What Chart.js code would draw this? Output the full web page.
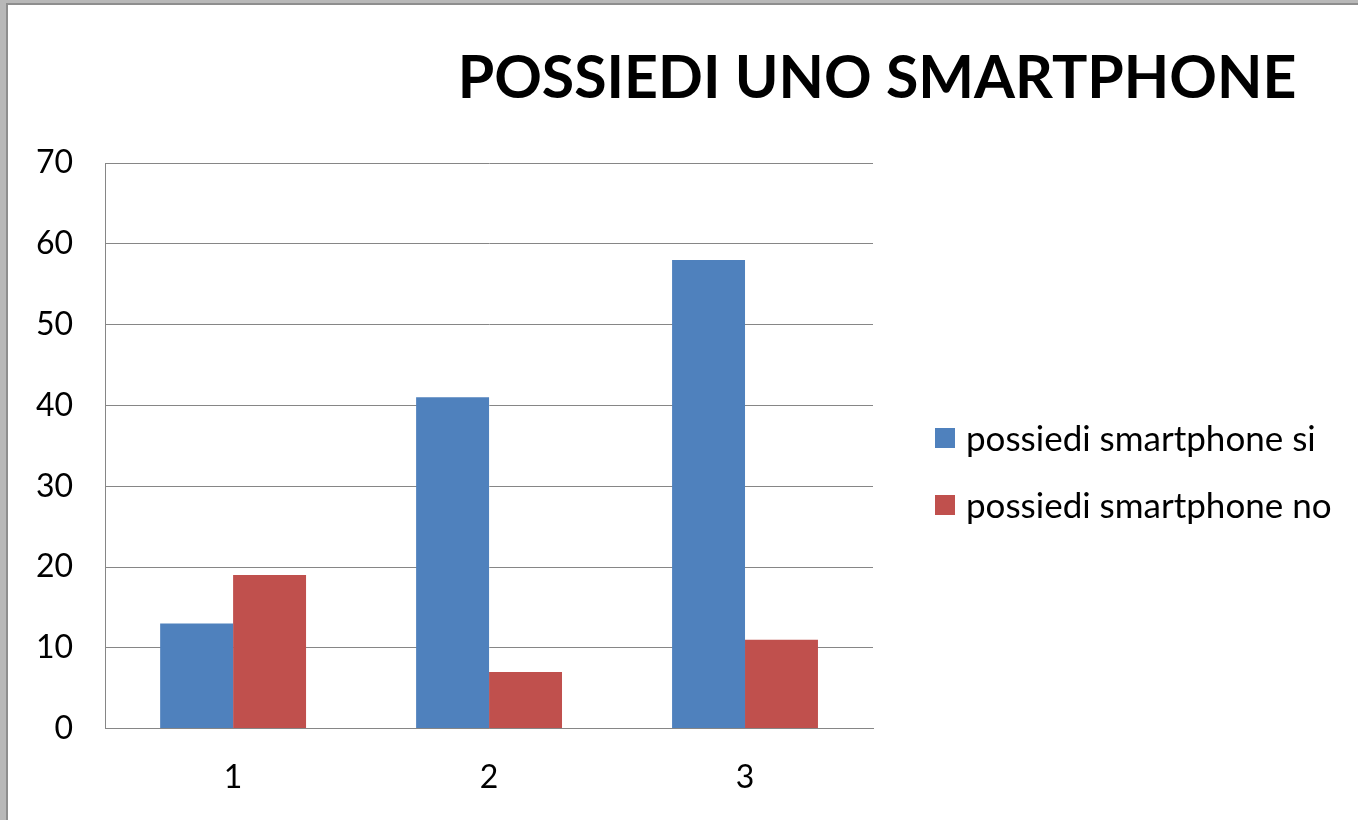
<!DOCTYPE html>
<html>
<head>
<meta charset="utf-8">
<script src="https://cdn.jsdelivr.net/npm/chart.js@4"></script>
<style>
  html, body { margin: 0; padding: 0; background: #fff; overflow: hidden; }
  #frame {
    position: absolute; left: 0; top: 0; width: 1358px; height: 820px; overflow: hidden;
    box-sizing: border-box; border-top: 3px solid #b8b8b8; border-left: 6px solid #b8b8b8;
  }
  #inner {
    position: absolute; left: 0; top: 0; right: 0; bottom: 0;
    border-top: 2px solid #8e8e8e; border-left: 2px solid #8e8e8e; background: #fff;
  }
  #grafico { position: absolute; left: -4px; top: 0; }
</style>
</head>
<body>
<div id="frame"><div id="inner"><canvas id="grafico" width="1354" height="822"></canvas></div></div>
<script>
const categorie = ["1", "2", "3"];
const smartphoneSi = [13, 41, 58];
const smartphoneNo = [19, 7, 11];
const serieNomi = ["possiedi smartphone si", "possiedi smartphone no"];
const titolo = "POSSIEDI UNO SMARTPHONE";

const coloreSi = "#4f81bd";
const coloreNo = "#c0504d";
const grigio = "#868686";
const font = "Lato, 'Open Sans', sans-serif";

// titolo e legenda disegnati a mano: nell'originale sono spostati a destra
const titoloPlugin = {
  id: "titoloDestra",
  afterDraw(chart) {
    const ctx = chart.ctx;
    ctx.save();
    ctx.font = "bold 59px " + font;
    ctx.fillStyle = "#000";
    ctx.textAlign = "center";
    ctx.textBaseline = "middle";
    ctx.fillText(titolo, 873, 74);
    ctx.restore();
  }
};

const legendaPlugin = {
  id: "legendaDestra",
  afterDraw(chart) {
    const ctx = chart.ctx;
    const x = chart.chartArea.right + 62;
    ctx.save();
    ctx.font = "35px " + font;
    ctx.textBaseline = "middle";
    chart.data.datasets.forEach((ds, i) => {
      const y = 433 + i * 67;
      ctx.fillStyle = ds.backgroundColor;
      ctx.fillRect(x, y - 10, 20, 20);
      ctx.fillStyle = "#000";
      ctx.fillText(ds.label, x + 31, y + 2);
    });
    ctx.restore();
  }
};

new Chart(document.getElementById("grafico"), {
  type: "bar",
  data: {
    labels: categorie,
    datasets: [
      { label: serieNomi[0], data: smartphoneSi, backgroundColor: coloreSi },
      { label: serieNomi[1], data: smartphoneNo, backgroundColor: coloreNo }
    ]
  },
  options: {
    responsive: false,
    animation: false,
    layout: { padding: { top: 158, left: 0, right: 485, bottom: 0 } },
    datasets: { bar: { categoryPercentage: 0.57, barPercentage: 1 } },
    scales: {
      x: {
        grid: { display: false, drawTicks: false },
        border: { display: true, color: grigio, width: 1 },
        ticks: { color: "#000", padding: 30, font: { family: font, size: 32 } }
      },
      y: {
        min: 0, max: 70,
        grid: { color: grigio, lineWidth: 1, drawTicks: false },
        border: { display: true, color: grigio, width: 1 },
        ticks: { stepSize: 10, color: "#000", padding: 32, font: { family: font, size: 32 } }
      }
    },
    plugins: {
      title: { display: false },
      tooltip: { enabled: false },
      legend: { display: false }
    }
  },
  plugins: [titoloPlugin, legendaPlugin]
});
</script>
</body>
</html>
